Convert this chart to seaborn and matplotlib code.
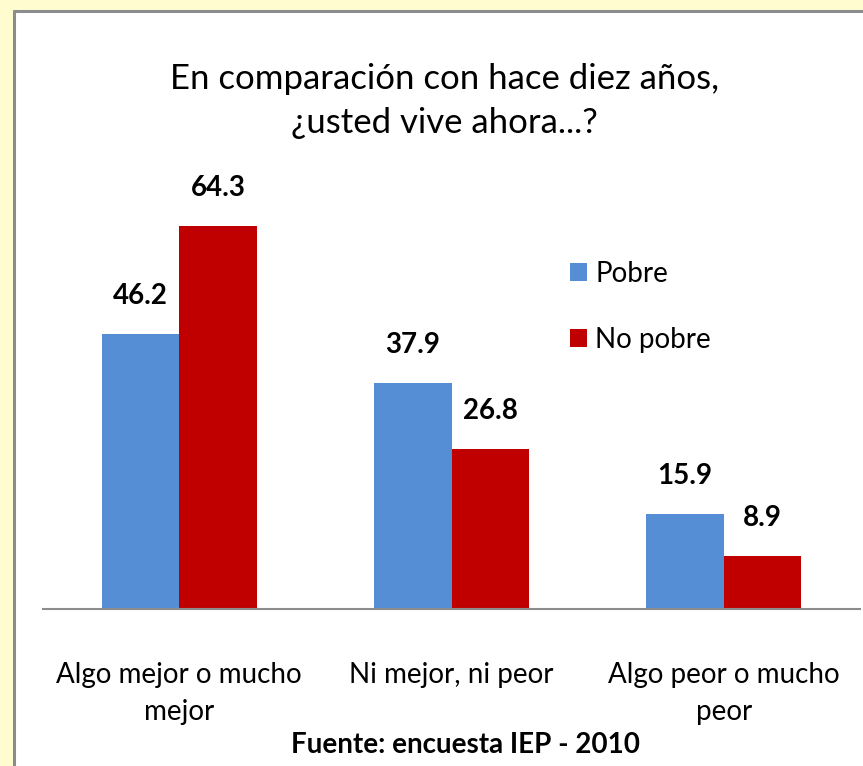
import numpy as np
import pandas as pd
import matplotlib
matplotlib.use('Agg')
import matplotlib.pyplot as plt
import seaborn as sns
from matplotlib.patches import Rectangle, Patch
from matplotlib.lines import Line2D

# Data
categories = ['Algo mejor o mucho\nmejor', 'Ni mejor, ni peor', 'Algo peor o mucho\npeor']
series = ['Pobre', 'No pobre']
pobre = [46.2, 37.9, 15.9]
no_pobre = [64.3, 26.8, 8.9]
colors = ['#558ED5', '#C00000']

title = 'En comparación con hace diez años,\n¿usted vive ahora...?'
source = 'Fuente: encuesta IEP - 2010'

df = pd.DataFrame({
	'categoria': categories * 2,
	'grupo': [series[0]] * 3 + [series[1]] * 3,
	'valor': pobre + no_pobre,
})

sns.set_style('white')
plt.rcParams['font.family'] = ['Lato', 'DejaVu Sans']
plt.rcParams['text.color'] = 'black'
plt.rcParams['xtick.color'] = 'black'

fig = plt.figure(figsize=(8.63, 7.66), dpi=100)
fig.patch.set_facecolor('#FFFDD0')

# White panel with grey frame on the left/top
fig.add_artist(Rectangle((15 / 863, 0), 1, 1 - 12 / 766, transform=fig.transFigure,
	facecolor='white', edgecolor='none', zorder=-10))
fig.add_artist(Line2D([14 / 863, 14 / 863], [0, 1 - 11 / 766], transform=fig.transFigure,
	color='#8C8C8C', lw=2.2, zorder=-5))
fig.add_artist(Line2D([14 / 863, 1], [1 - 11 / 766, 1 - 11 / 766], transform=fig.transFigure,
	color='#8C8C8C', lw=2.2, zorder=-5))

ax = fig.add_axes([43 / 863, 157 / 766, 817 / 863, 429 / 766])
ax.set_facecolor('none')

sns.barplot(data=df, x='categoria', y='valor', hue='grupo', order=categories,
	hue_order=series, palette=colors, width=0.57, gap=0, saturation=1,
	errorbar=None, ax=ax, legend=False, linewidth=0)

for cont in ax.containers:
	ax.bar_label(cont, fmt='%.1f', padding=18, fontsize=20, fontweight='bold')

ax.set_xlim(-0.5, 2.5)
ax.set_ylim(0, 72)
ax.set_xlabel('')
ax.set_ylabel('')
ax.set_yticks([])
for s in ['left', 'right', 'top']:
	ax.spines[s].set_visible(False)
ax.spines['bottom'].set_color('#8C8C8C')
ax.spines['bottom'].set_linewidth(1.5)
ax.tick_params(axis='x', length=0, pad=38, labelsize=20)
for lab in ax.get_xticklabels():
	lab.set_linespacing(1.55)

handles = [Patch(facecolor=c, edgecolor='none') for c in colors]
ax.legend(handles, series, loc='upper left', bbox_to_anchor=(0.615, 0.87),
	frameon=False, fontsize=20, handlelength=0.6, handleheight=0.6,
	handletextpad=0.3, labelspacing=1.45)

fig.text(0.515, 1 - 101 / 766, title, ha='center', va='center', fontsize=25,
	linespacing=1.45)
fig.text(0.539, 1 - 745 / 766, source, ha='center', va='center', fontsize=20,
	fontweight='bold')

fig.savefig('out.png', dpi=100)
